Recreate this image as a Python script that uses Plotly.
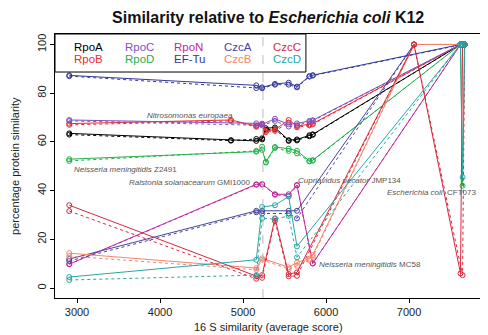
import plotly.graph_objects as go

N = None
# 16S similarity (average score) of the compared organisms
x_org = [2907, 4855, 5160, 5230, 5275, 5385, 5550, 5650, 5800, 5840, 7060, 7620, 7645, 7670]

genes = ["RpoA", "RpoB", "RpoC", "RpoD", "RpoN", "EF-Tu", "CzcA", "CzcB", "CzcC", "CzcD"]
colors = ["#000000", "#EE2C2C", "#7E50C0", "#22B14C", "#C0279E",
          "#33399A", "#45449F", "#F4846E", "#D8283C", "#26A8A8"]

# percentage protein similarity, two series per gene (solid / dotted)
rpoA_a = [63.5, 60.7, 60.4, 61.0, 65.6, 65.9, 60.7, 61.0, 62.7, 63.1, N, 100, 100, 100]
rpoA_b = [63.0, 60.5, 61.2, 61.5, 65.0, 65.2, 60.4, 60.6, 62.3, 62.9, N, 100, 100, 100]
rpoB_a = [67.5, 69.0, 66.5, 67.5, 64.5, 65.0, 69.0, 66.5, 67.2, 67.5, N, 100, 100, 100]
rpoB_b = [67.0, 68.6, 66.2, 67.0, 64.0, 64.5, 67.9, 66.0, 66.8, 67.2, N, 100, 100, 100]
rpoC_a = [69.0, N, 67.6, 67.2, N, 69.5, 67.2, 67.6, 68.6, 68.9, N, 100, 100, 100]
rpoC_b = [68.6, N, 66.8, 66.8, N, 68.6, 66.3, 66.8, 68.2, 68.6, N, 100, 100, 100]
rpoD_a = [52.9, N, 56.0, 56.7, 51.8, 57.9, 57.2, 56.3, 52.2, 52.5, N, 100, 42.0, 100]
rpoD_b = [52.2, N, 56.3, 58.0, 51.5, 57.5, 56.3, 55.3, 52.0, 52.3, N, 100, 100, 100]
rpoN_a = [9.8, N, 42.6, 42.7, N, 38.5, 38.5, 42.3, N, 10.1, N, 100, 100, 100]
rpoN_b = [9.8, N, 42.4, 42.5, N, 38.3, 37.8, 42.1, N, 10.1, N, 100, 100, 100]
eftu_a = [87.3, N, 83.2, 82.4, N, 83.8, 84.3, 82.7, 87.0, 87.4, N, 100, 100, 100]
eftu_b = [87.0, N, 82.1, 82.0, N, 83.5, 83.5, 82.4, 86.8, 87.2, N, 100, 100, 100]
czcA_a = [11.9, N, 31.7, 31.7, N, N, 31.7, 31.7, N, N, 100, 100, 100, 100]
czcA_b = [11.1, N, 31.1, 30.6, N, N, 30.6, 28.6, N, N, 100, 100, 100, 100]
czcB_a = [14.3, N, 8.2, 12.2, N, N, 8.5, 10.5, 12.0, 13.5, 100, 100, 100, 100]
czcB_b = [13.1, N, 7.5, 11.6, N, N, 7.8, 9.1, 11.5, 12.8, 100, 100, 100, 100]
czcC_a = [34.0, N, 4.9, 5.3, N, 28.6, 5.7, 6.4, N, N, 100, 6.0, 100, 100]
czcC_b = [31.6, N, 3.8, 4.2, N, 27.6, 4.8, 5.0, N, N, 100, N, 5.3, 100]
czcD_a = [4.5, N, 11.6, 33.3, N, 34.0, 37.6, 17.1, N, N, N, 100, 45.5, 100]
czcD_b = [3.3, N, 5.3, 28.6, N, 28.3, 29.6, 12.6, N, N, N, 100, 100, 100]

series_a = [rpoA_a, rpoB_a, rpoC_a, rpoD_a, rpoN_a, eftu_a, czcA_a, czcB_a, czcC_a, czcD_a]
series_b = [rpoA_b, rpoB_b, rpoC_b, rpoD_b, rpoN_b, eftu_b, czcA_b, czcB_b, czcC_b, czcD_b]

ref_x = 5240  # vertical reference line

labels = [
    ("<i>Nitrosomonas europaea</i>", 4360, 71.0, "center"),
    ("<i>Neisseria meningitidis</i> Z2491", 2935, 48.6, "left"),
    ("<i>Ralstonia solanacearum</i> GMI1000", 5125, 43.3, "right"),
    ("<i>Cupriavidus necator</i> JMP134", 5640, 44.2, "left"),
    ("<i>Neisseria meningitidis</i> MC58", 5890, 9.8, "left"),
    ("<i>Escherichia coli</i>  CFT073", 7830, 39.3, "right"),
]

fig = go.Figure()
for g, c, ya, yb in zip(genes, colors, series_a, series_b):
    for ys, dash in ((ya, "solid"), (yb, "dot")):
        fig.add_trace(go.Scatter(
            x=x_org, y=ys, mode="lines+markers", connectgaps=True, name=g,
            line=dict(color=c, width=1, dash=dash),
            marker=dict(symbol="circle-open", size=5, color=c, line=dict(width=1, color=c)),
            showlegend=False, hoverinfo="skip"))

fig.add_shape(type="line", xref="x", yref="paper", x0=ref_x, x1=ref_x, y0=0, y1=1,
              line=dict(color="#BBBBBB", width=1, dash="dash"))

# legend box
fig.add_shape(type="rect", xref="paper", yref="paper", x0=0, x1=0.589, y0=0.856, y1=1,
              line=dict(color="#000000", width=1), fillcolor="rgba(255,255,255,0)")
leg_x = [0.040, 0.160, 0.275, 0.392, 0.507]
for i, (g, c) in enumerate(zip(genes, colors)):
    col = i // 2
    row = i % 2
    fig.add_annotation(xref="paper", yref="paper", x=leg_x[col], y=0.952 - row * 0.048,
                       text=g, showarrow=False, xanchor="left", yanchor="middle",
                       font=dict(size=11.5, color=c, family="Liberation Sans, Arial"))

for t, x, y, anc in labels:
    fig.add_annotation(x=x, y=y, text=t, showarrow=False, xanchor=anc, yanchor="middle",
                       font=dict(size=8, color="#555555", family="Liberation Sans, Arial"))

# axis titles
fig.add_annotation(xref="paper", yref="paper", x=0.5, y=-0.11, yanchor="middle",
                   text="16 S similarity (average score)", showarrow=False,
                   font=dict(size=11, color="#222222", family="Liberation Sans, Arial"))
fig.add_annotation(xref="paper", yref="paper", x=-0.094, y=0.5, xanchor="center",
                   yanchor="middle", textangle=-90,
                   text="percentage protein similarity", showarrow=False,
                   font=dict(size=11, color="#222222", family="Liberation Sans, Arial"))

# the page adds an 8px body margin, so the figure is 8px smaller on each side
fig.update_layout(
    width=480, height=327,
    margin=dict(l=47, r=7, t=26, b=37),
    paper_bgcolor="white", plot_bgcolor="white",
    font=dict(family="Liberation Sans, Arial", size=11, color="#222222"),
    title=dict(text="<b>Similarity relative to <i>Escherichia coli</i> K12</b>",
               x=0.542, xanchor="center", xref="container",
               y=1 - 9 / 327, yanchor="middle", yref="container",
               font=dict(size=16, color="#111111")),
    xaxis=dict(range=[2735, 7867], tickvals=[3000, 4000, 5000, 6000, 7000],
               showgrid=False, zeroline=False, showline=True, linecolor="black",
               linewidth=1, mirror=True, ticks="outside", ticklen=4, tickcolor="black",
               automargin=False),
    yaxis=dict(range=[-4.1, 104.3], tickvals=[0, 20, 40, 60, 80, 100],
               showgrid=False, zeroline=False, showline=True, linecolor="black",
               linewidth=1, mirror=True, ticks="outside", ticklen=4, tickcolor="black",
               tickangle=-90, automargin=False),
)

fig.write_html("out.html")
